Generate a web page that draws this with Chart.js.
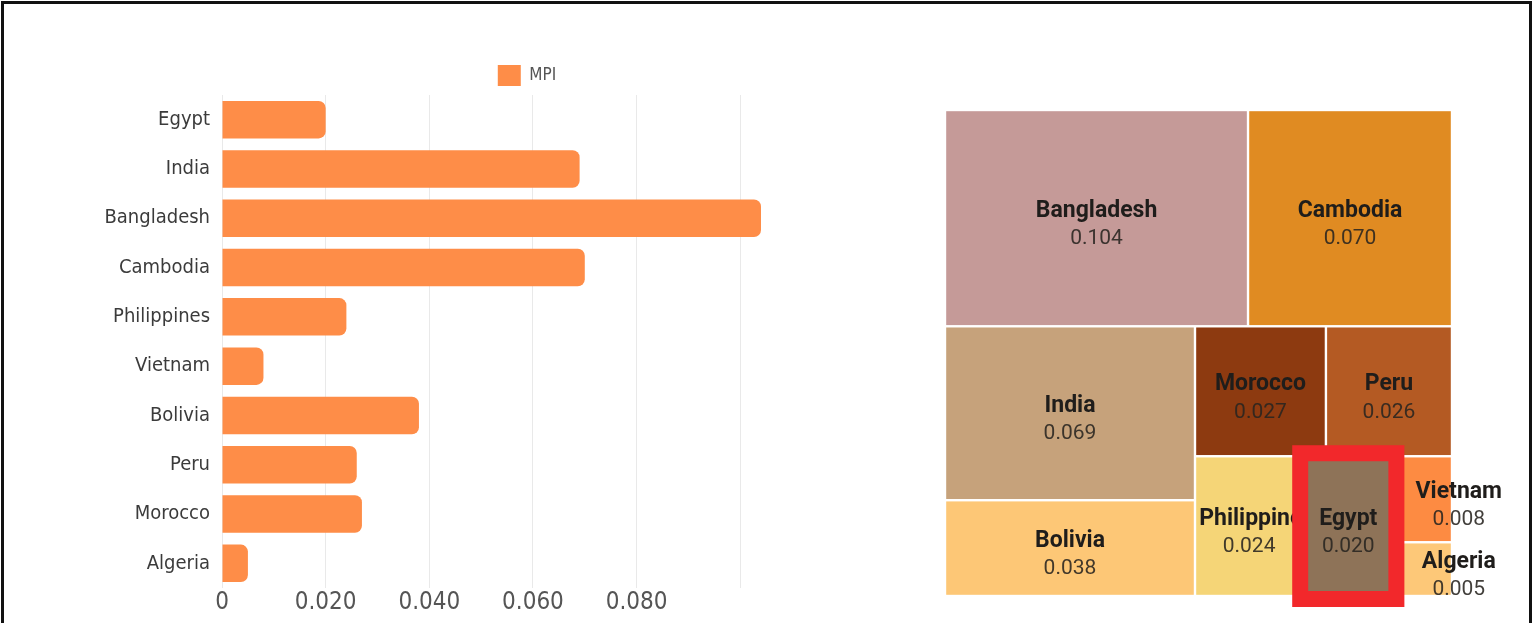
<!DOCTYPE html>
<html>
<head>
<meta charset="utf-8">
<script src="https://cdn.jsdelivr.net/npm/chart.js@4.4.1/dist/chart.umd.min.js"></script>
<style>
  html, body { margin: 0; padding: 0; background: #ffffff; }
  body { width: 1532px; height: 623px; position: relative; overflow: hidden; }
  #barWrap { position: absolute; left: 0; top: 0; width: 780px; height: 623px; }
  #treeWrap { position: absolute; left: 930px; top: 90px; width: 602px; height: 533px; }
  #frame { position: absolute; left: 1px; top: 1px; width: 1525px; height: 619px;
           border-top: 3px solid #111; border-left: 3px solid #111; border-right: 3px solid #111;
           border-bottom: 1px solid #8a8a8a; pointer-events: none; }
</style>
</head>
<body>
<div id="barWrap"><canvas id="bar"></canvas></div>
<div id="treeWrap"><canvas id="tree"></canvas></div>
<div id="frame"></div>
<script>
// ---- data ----
const countries = ['Egypt', 'India', 'Bangladesh', 'Cambodia', 'Philippines', 'Vietnam', 'Bolivia', 'Peru', 'Morocco', 'Algeria'];
const mpiValues = [0.020, 0.069, 0.104, 0.070, 0.024, 0.008, 0.038, 0.026, 0.027, 0.005];
const seriesName = 'MPI';
const highlightedCountry = 'Egypt';

// ---- styles ----
const barColor = '#FE8D48';
const treemapColors = {
  Bangladesh: '#C59A98', Cambodia: '#E08B22', India: '#C6A27B', Bolivia: '#FDC776',
  Morocco: '#8D3A10', Peru: '#B45A23', Philippines: '#F5D577', Egypt: '#8E7358',
  Vietnam: '#FD8B42', Algeria: '#FDC878'
};
const narrowFont = "'Liberation Sans Narrow', 'DejaVu Sans Condensed', 'Roboto Condensed', Roboto, sans-serif";

// ---- bar chart ----
const legendShift = {
  id: 'legendShift',
  afterLayout(chart) {
    const lg = chart.legend;
    if (!lg) return;
    const target = 527;
    const d = target - (lg.left + lg.right) / 2;
    lg.left += d; lg.right += d;
    lg.top += 1; lg.bottom += 1;
  }
};

new Chart(document.getElementById('bar'), {
  type: 'bar',
  data: {
    labels: countries,
    datasets: [{
      label: seriesName,
      data: mpiValues,
      backgroundColor: barColor,
      borderRadius: 7,
      borderSkipped: 'start',
      categoryPercentage: 0.8,
      barPercentage: 0.95
    }]
  },
  options: {
    indexAxis: 'y',
    responsive: true,
    maintainAspectRatio: false,
    animation: false,
    layout: { padding: { top: 56, right: 19, left: 0, bottom: 0 } },
    plugins: {
      legend: {
        position: 'top',
        labels: {
          boxWidth: 23, boxHeight: 21, padding: 8,
          color: '#555', font: { family: narrowFont, size: 17 }
        }
      },
      tooltip: { enabled: false }
    },
    scales: {
      x: {
        type: 'linear',
        min: 0,
        max: Math.max(...mpiValues),
        grid: { color: '#e9e9e9', drawTicks: false },
        border: { display: false },
        ticks: {
          stepSize: 0.02,
          includeBounds: false,
          padding: 0,
          color: '#555',
          font: { family: narrowFont, size: 24 },
          callback: (v) => v === 0 ? '0' : (v > 0.0999 ? '' : Number(v).toFixed(3))
        },
        afterFit: (s) => { s.height = 35; }
      },
      y: {
        grid: { display: false, drawTicks: false },
        border: { display: false },
        ticks: { padding: 12, color: '#3b3b3b', font: { family: narrowFont, size: 20 } },
        afterFit: (s) => { s.width = 222; }
      }
    }
  },
  plugins: [legendShift]
});

// ---- treemap (squarified layout computed from values, drawn via linear scales) ----
function squarify(items, x0, y0, x1, y1, ratio) {
  const out = [];
  let total = items.reduce((s, d) => s + d.value, 0);
  let i0 = 0;
  const n = items.length;
  while (i0 < n) {
    const dx = x1 - x0, dy = y1 - y0;
    let i1 = i0;
    let sum = items[i1++].value, minV = sum, maxV = sum;
    const alpha = Math.max(dy / dx, dx / dy) / (total * ratio);
    let best = Math.max(maxV / (sum * sum * alpha), (sum * sum * alpha) / minV);
    for (; i1 < n; i1++) {
      const v = items[i1].value;
      const s2 = sum + v, mn = Math.min(minV, v), mx = Math.max(maxV, v);
      const b = s2 * s2 * alpha;
      const r = Math.max(mx / b, b / mn);
      if (r > best) break;
      sum = s2; minV = mn; maxV = mx; best = r;
    }
    const row = items.slice(i0, i1);
    if (dx <= dy) {
      const h = dy * sum / total;
      let x = x0;
      row.forEach(d => { const w = dx * d.value / sum; out.push({ ...d, x0: x, x1: x + w, y0: y0, y1: y0 + h }); x += w; });
      y0 += h;
    } else {
      const w = dx * sum / total;
      let y = y0;
      row.forEach(d => { const h = dy * d.value / sum; out.push({ ...d, x0: x0, x1: x0 + w, y0: y, y1: y + h }); y += h; });
      x0 += w;
    }
    total -= sum;
    i0 = i1;
  }
  return out;
}

const treeItems = countries.map((c, i) => ({ label: c, value: mpiValues[i] }))
  .sort((a, b) => b.value - a.value);
const cells = squarify(treeItems, 0, 0, 100, 100, 1.25);

const treemapDraw = {
  id: 'treemapDraw',
  afterDatasetsDraw(chart) {
    const { ctx, scales: { x, y } } = chart;
    const gap = 1.2;
    cells.forEach(c => {
      const L = x.getPixelForValue(c.x0) + gap, R = x.getPixelForValue(c.x1) - gap;
      const T = y.getPixelForValue(c.y0) + gap, B = y.getPixelForValue(c.y1) - gap;
      ctx.save();
      ctx.fillStyle = treemapColors[c.label];
      ctx.fillRect(L, T, R - L, B - T);
      ctx.restore();
    });
    cells.forEach(c => {
      const L = x.getPixelForValue(c.x0) + gap, R = x.getPixelForValue(c.x1) - gap;
      const T = y.getPixelForValue(c.y0) + gap, B = y.getPixelForValue(c.y1) - gap;
      const cy = (T + B) / 2;
      ctx.save();
      ctx.font = "bold 23px Roboto, 'DejaVu Sans', sans-serif";
      const nameW = ctx.measureText(c.label).width;
      let cx = (L + R) / 2;
      let align = 'center';
      const overflow = nameW > (R - L) + 10;
      if (overflow) {
        cx = R + 8;
      } else {
        ctx.beginPath(); ctx.rect(L, T, R - L, B - T); ctx.clip();
        if (nameW > (R - L) - 4) { align = 'left'; cx = L + 3; }
      }
      ctx.textAlign = align;
      ctx.textBaseline = 'middle';
      ctx.fillStyle = '#1f1d1b';
      ctx.fillText(c.label, cx, cy - 7);
      ctx.font = "21px Roboto, 'DejaVu Sans', sans-serif";
      ctx.fillStyle = 'rgba(40,36,32,0.88)';
      ctx.textAlign = 'center';
      ctx.fillText(c.value.toFixed(3), align === 'left' ? (L + R) / 2 : cx, cy + 21);
      ctx.restore();
    });
    const hl = cells.find(c => c.label === highlightedCountry);
    if (hl) {
      const L = x.getPixelForValue(hl.x0), R = x.getPixelForValue(hl.x1);
      const T = y.getPixelForValue(hl.y0), B = y.getPixelForValue(hl.y1);
      ctx.save();
      ctx.strokeStyle = '#F2282B';
      ctx.lineWidth = 16;
      ctx.strokeRect(L - 3, T - 3, (R - L) + 6, (B - T) + 6);
      ctx.restore();
    }
  }
};

new Chart(document.getElementById('tree'), {
  type: 'scatter',
  data: { datasets: [{ data: [] }] },
  options: {
    responsive: true,
    maintainAspectRatio: false,
    animation: false,
    layout: { padding: { left: 15, top: 20, right: 80, bottom: 27 } },
    plugins: { legend: { display: false }, tooltip: { enabled: false } },
    scales: {
      x: { type: 'linear', min: 0, max: 100, display: false },
      y: { type: 'linear', min: 0, max: 100, reverse: true, display: false }
    }
  },
  plugins: [treemapDraw]
});
</script>
</body>
</html>
